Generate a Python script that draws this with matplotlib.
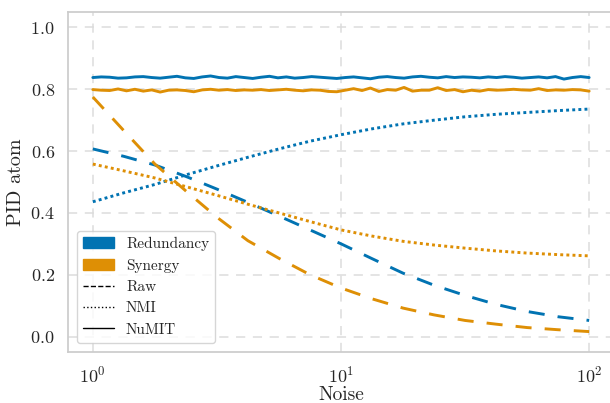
import numpy as np
import matplotlib
matplotlib.use("Agg")
import matplotlib.pyplot as plt
from matplotlib.patches import Patch
from matplotlib.lines import Line2D
import seaborn as sns

# smooth curves (Raw / NMI), sampled every 1/8 decade from 1 to 100
noise = np.logspace(0, 2, 17)
raw_red = [0.607, 0.583, 0.555, 0.518, 0.477, 0.434, 0.390, 0.345, 0.300,
           0.252, 0.205, 0.166, 0.133, 0.104, 0.081, 0.064, 0.052]
raw_syn = [0.775, 0.666, 0.558, 0.471, 0.386, 0.310, 0.253, 0.200, 0.157,
           0.122, 0.092, 0.070, 0.052, 0.040, 0.029, 0.022, 0.016]
nmi_red = [0.436, 0.465, 0.492, 0.523, 0.552, 0.580, 0.607, 0.632, 0.653,
           0.672, 0.688, 0.700, 0.711, 0.719, 0.725, 0.731, 0.736]
nmi_syn = [0.558, 0.536, 0.513, 0.485, 0.457, 0.428, 0.400, 0.372, 0.345,
           0.325, 0.308, 0.296, 0.286, 0.277, 0.270, 0.265, 0.261]

# NuMIT (noisy, flat)
noise_numit = np.logspace(0, 2, 60)
numit_red = [0.838, 0.840, 0.839, 0.836, 0.837, 0.840, 0.841, 0.838, 0.836, 0.839,
             0.842, 0.837, 0.835, 0.840, 0.843, 0.838, 0.836, 0.841, 0.838, 0.835,
             0.839, 0.842, 0.837, 0.840, 0.836, 0.838, 0.841, 0.839, 0.837, 0.835,
             0.838, 0.840, 0.837, 0.834, 0.839, 0.841, 0.838, 0.836, 0.840, 0.842,
             0.839, 0.837, 0.841, 0.838, 0.840, 0.839, 0.837, 0.840, 0.838, 0.841,
             0.839, 0.836, 0.838, 0.840, 0.837, 0.841, 0.833, 0.838, 0.841, 0.838]
numit_syn = [0.799, 0.797, 0.796, 0.801, 0.795, 0.800, 0.794, 0.798, 0.791, 0.797,
             0.798, 0.796, 0.792, 0.798, 0.800, 0.797, 0.799, 0.796, 0.798, 0.797,
             0.799, 0.796, 0.798, 0.800, 0.797, 0.795, 0.798, 0.797, 0.793, 0.792,
             0.797, 0.802, 0.796, 0.804, 0.793, 0.799, 0.797, 0.806, 0.794, 0.797,
             0.797, 0.805, 0.796, 0.799, 0.792, 0.797, 0.794, 0.799, 0.797, 0.798,
             0.800, 0.798, 0.797, 0.802, 0.796, 0.798, 0.797, 0.799, 0.798, 0.794]

sns.set_theme(style="whitegrid")
plt.rcParams.update({
    "font.family": "serif",
    "font.serif": ["cmr10"],
    "mathtext.fontset": "cm",
    "axes.formatter.use_mathtext": True,
    "axes.unicode_minus": False,
    "grid.linestyle": (0, (6, 5)),
    "grid.color": "#dcdcdc",
    "grid.linewidth": 1.1,
    "axes.edgecolor": "#cccccc",
})

blue, orange = sns.color_palette("colorblind")[:2]

fig = plt.figure(figsize=(6.1, 4.03), dpi=100)
ax = fig.add_axes([0.1115, 0.1266, 0.895, 0.8436])

lw = 2.1
dash = (0, (5.5, 4.5))
dot = (0, (1, 1.1))
ax.plot(noise, raw_red, color=blue, lw=lw, linestyle=dash)
ax.plot(noise, raw_syn, color=orange, lw=lw, linestyle=dash)
ax.plot(noise, nmi_red, color=blue, lw=lw, linestyle=dot)
ax.plot(noise, nmi_syn, color=orange, lw=lw, linestyle=dot)
ax.plot(noise_numit, numit_red, color=blue, lw=lw)
ax.plot(noise_numit, numit_syn, color=orange, lw=lw)

ax.set_xscale("log")
ax.set_xlim(10 ** -0.1, 10 ** 2.1)
ax.set_ylim(-0.05, 1.05)
ax.set_yticks([0.0, 0.2, 0.4, 0.6, 0.8, 1.0])
ax.tick_params(labelsize=13)
ax.xaxis.set_minor_locator(matplotlib.ticker.NullLocator())
ax.set_xlabel("Noise", fontsize=14, labelpad=0)
ax.set_ylabel("PID atom", fontsize=14.5)

handles = [
    Patch(color=blue, label="Redundancy"),
    Patch(color=orange, label="Synergy"),
    Line2D([], [], color="black", lw=1, linestyle="--", label="Raw"),
    Line2D([], [], color="black", lw=1, linestyle=":", label="NMI"),
    Line2D([], [], color="black", lw=1, linestyle="-", label="NuMIT"),
]
ax.legend(handles=handles, loc="lower left", fontsize=11, borderaxespad=0.6)

fig.savefig("out.png", dpi=100)
